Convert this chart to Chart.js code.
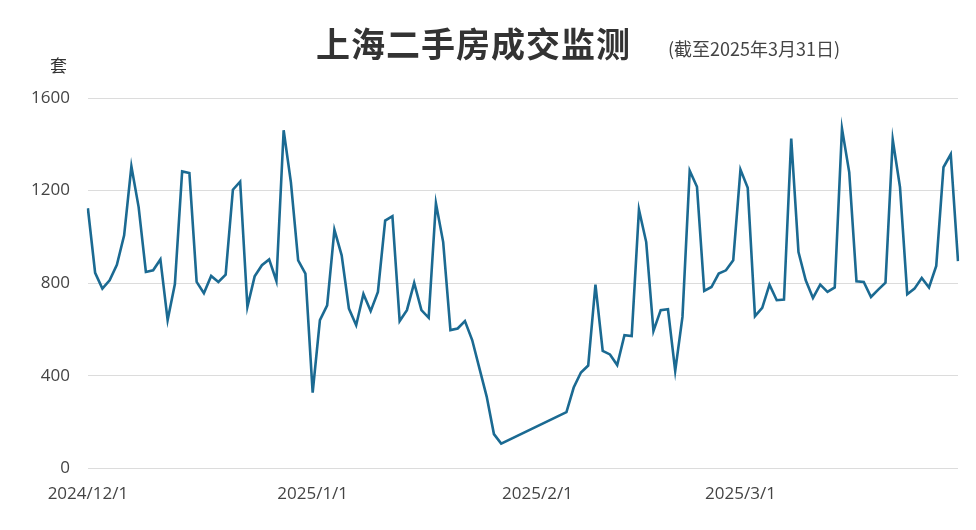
<!DOCTYPE html>
<html><head><meta charset="utf-8">
<script src="https://cdn.jsdelivr.net/npm/chart.js@4"></script>
<style>
html,body{margin:0;padding:0;background:#fff;width:976px;height:530px;overflow:hidden;font-family:"Noto Sans CJK SC","Noto Sans",sans-serif}
#wrap{position:relative;width:976px;height:530px}
#title{position:absolute;left:316px;top:18px;font-size:34px;font-weight:bold;color:#333;letter-spacing:1px}
#sub{position:absolute;left:668px;top:35px;font-size:18px;color:#444}
#unit{position:absolute;left:50px;top:52px;font-size:17px;color:#333}
canvas{position:absolute;left:0;top:0}
</style></head><body>
<div id="wrap">
<canvas id="c" width="976" height="530"></canvas>
<div id="title">上海二手房成交监测</div>
<div id="sub">(截至2025年3月31日)</div>
<div id="unit">套</div>
</div>
<script>
const startDate = [2024, 12, 1];
const dayCount = 121;
const yTicks = [0, 400, 800, 1200, 1600];
const tickDates = ["2024/12/1", "2025/1/1", "2025/2/1", "2025/3/1"];
// daily values, null = no data (Spring Festival gap)
const decValues = [1124,845,777,813,880,1007,1305,1129,849,856,903,641,797,1283,1276,806,757,832,806,837,1204,1239,698,830,878,903,810,1461,1236,899,842];
const janValues = [328,641,705,1031,921,691,619,754,680,763,1071,1090,637,684,802,684,651,1146,978,598,605,637,555,433,311,149,108,null,null,null,null];
const febValues = [null,null,null,null,244,350,415,445,794,508,493,447,576,572,1118,978,594,684,688,422,655,1286,1217,767,784,842,856,899];
const marValues = [1291,1212,658,694,794,727,730,1425,935,813,737,794,763,782,1468,1279,809,806,741,773,803,1420,1215,753,777,823,782,875,1301,1357,896];
const values = [...decValues, ...janValues, ...febValues, ...marValues];
const labels = [];
for (let i = 0; i < dayCount; i++) {
  const d = new Date(startDate[0], startDate[1]-1, startDate[2]+i);
  labels.push(d.getFullYear()+"/"+(d.getMonth()+1)+"/"+d.getDate());
}
new Chart(document.getElementById('c'), {
  type: 'line',
  data: { labels, datasets: [{ data: values, borderColor: '#1b6a92', borderWidth: 2.6, pointRadius: 0, spanGaps: true, tension: 0 }] },
  options: {
    responsive: false, animation: false,
    layout: { padding: { top: 98, right: 18, left: 13, bottom: 19 } },
    plugins: { legend: { display: false }, tooltip: { enabled: false } },
    scales: {
      x: { offset: false, grid: { display: false }, border: { display: false },
        ticks: { autoSkip: false, maxRotation: 0, color: '#444', font: { size: 17, family: 'Open Sans' }, padding: 7,
          callback: function(v, i) { const l = labels[i]; return tickDates.includes(l) ? l : null; } } },
      y: { min: 0, max: 1600, afterBuildTicks: ax => { ax.ticks = yTicks.map(v => ({ value: v })); },
        grid: { color: '#dcdcdc', drawTicks: false }, border: { display: false },
        ticks: { color: '#444', font: { size: 17, family: 'Open Sans' }, padding: 18, callback: v => String(v) } }
    }
  }
});
</script>
</body></html>
